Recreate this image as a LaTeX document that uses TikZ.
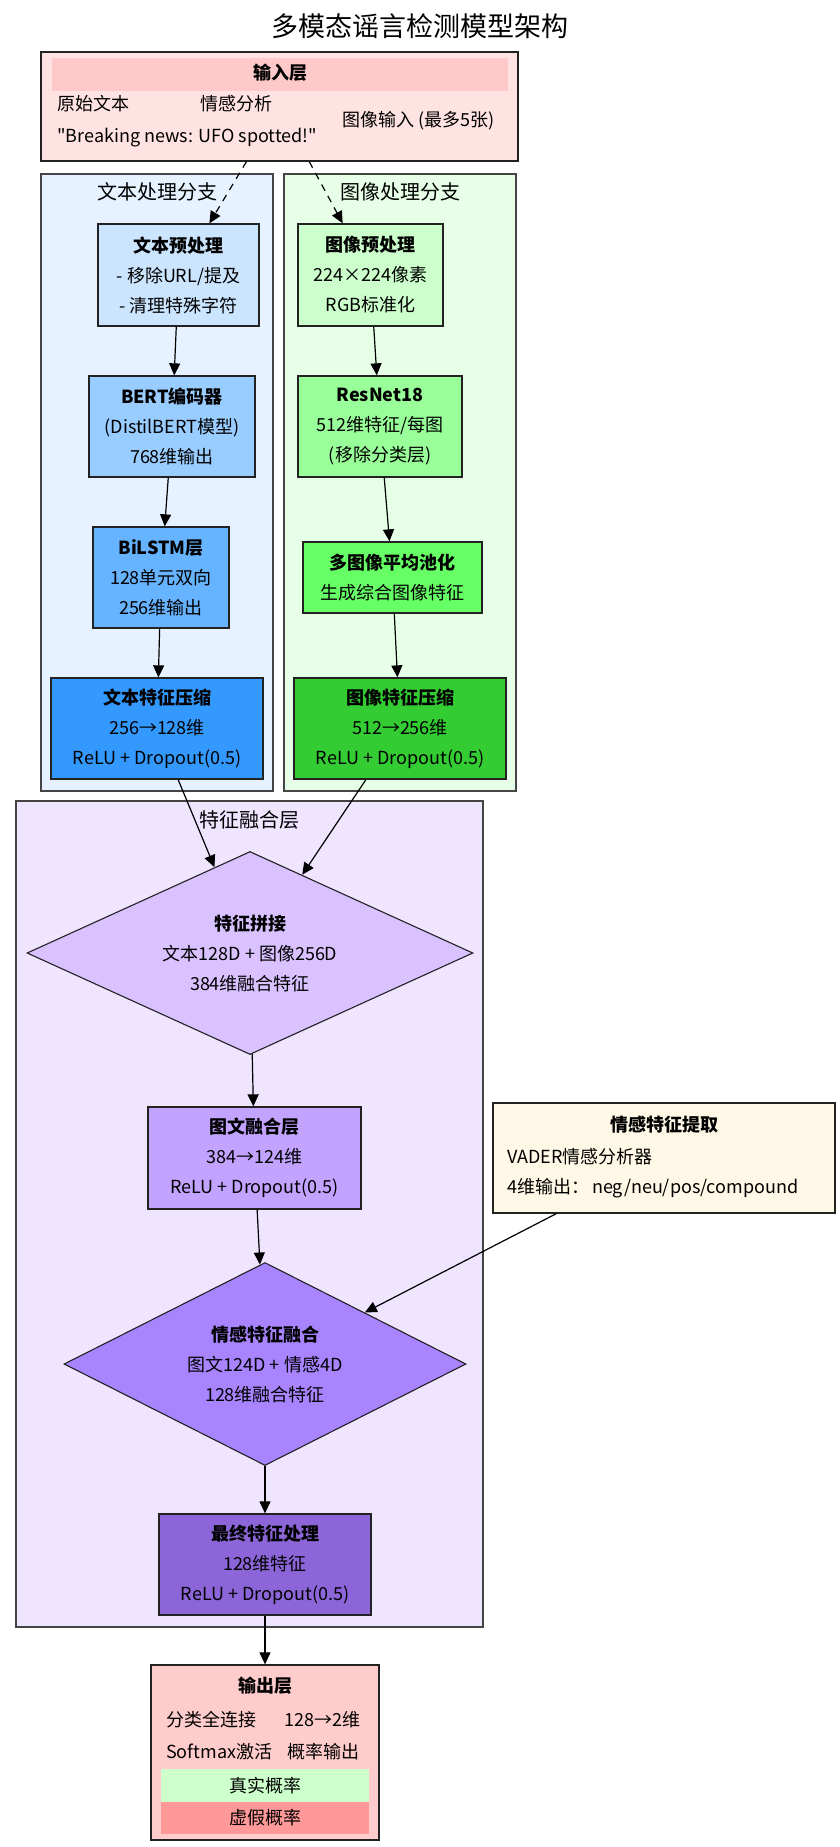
\documentclass[tikz,border=0pt]{standalone}
\usepackage{fontspec}
\setmainfont{Noto Sans CJK SC}
\newfontfamily\rawfont{Noto Sans CJK SC}
\usetikzlibrary{arrows.meta,shapes.geometric}
\definecolor{inputfill}{HTML}{FFE3E3}
\definecolor{headfill}{HTML}{FFC9C9}
\definecolor{tbranch}{HTML}{E6F2FF}
\definecolor{ibranch}{HTML}{E6FFE6}
\definecolor{fusefill}{HTML}{EFE5FF}
\definecolor{tA}{HTML}{CCE5FF}
\definecolor{tB}{HTML}{99CCFF}
\definecolor{tC}{HTML}{66B3FF}
\definecolor{tD}{HTML}{3399FF}
\definecolor{iA}{HTML}{CCFFCC}
\definecolor{iB}{HTML}{99FF99}
\definecolor{iC}{HTML}{66FF66}
\definecolor{iD}{HTML}{33CC33}
\definecolor{fA}{HTML}{D9C2FF}
\definecolor{fB}{HTML}{C2A3FF}
\definecolor{fC}{HTML}{A884FF}
\definecolor{fD}{HTML}{8C66D9}
\definecolor{sentfill}{HTML}{FFF8E6}
\definecolor{outfill}{HTML}{FFCCCC}
\definecolor{goodbar}{HTML}{CCFFCC}
\definecolor{badbar}{HTML}{FF9999}
\definecolor{edgegray}{HTML}{222222}
\definecolor{framegray}{HTML}{444444}
\begin{document}
\begin{tikzpicture}[x=1pt,y=-1pt,
  body/.style={font=\fontsize{18}{30}\selectfont},
  blk/.style={draw=edgegray,line width=1.3pt,rectangle,inner sep=0pt,align=center,body},
  frame/.style={draw=framegray,line width=1.5pt,rectangle,inner sep=0pt},
  dia/.style={draw=edgegray,line width=1.1pt,diamond,inner sep=0pt,aspect=2.2,align=center,body},
  lbl/.style={inner sep=0pt,body},
  lft/.style={inner sep=0pt,anchor=west,body},
  grouplbl/.style={inner sep=0pt,font=\fontsize{20}{24}\selectfont},
  arr/.style={-{Triangle[length=12pt,width=11pt]},line width=1.2pt,black},
  darr/.style={arr,dash pattern=on 7pt off 6pt}
]
\useasboundingbox (0,0) rectangle (840,1847);
\fill[white] (0,0) rectangle (840,1847);

% title
\node[inner sep=0pt,font=\fontsize{27}{30}\selectfont] (title) at (420,26) {多模态谣言检测模型架构};

% cluster frames
\node[frame,fill=tbranch,minimum width=232pt,minimum height=617pt] (tbr) at (157,482.5) {};
\node[frame,fill=ibranch,minimum width=232pt,minimum height=617pt] (ibr) at (400,482.5) {};
\node[frame,fill=fusefill,minimum width=467pt,minimum height=826pt] (fus) at (249.5,1214) {};
\node[grouplbl] (tbrl) at (157,192) {文本处理分支};
\node[grouplbl] (ibrl) at (400,192) {图像处理分支};
\node[grouplbl] (fusl) at (249,820) {特征融合层};

% input box
\node[blk,fill=inputfill,minimum width=477pt,minimum height=109pt] (input) at (279.5,106.5) {};
\node[fill=headfill,inner sep=0pt,minimum width=456pt,minimum height=33pt] (inhead) at (280,74.5) {};
\node[lbl] (inheadt) at (280,73) {\bfseries 输入层};
\node[lft] (inraw) at (57,104) {原始文本};
\node[lft] (insent) at (200,104) {情感分析};
\node[lft] (inimg) at (342,121) {图像输入 (最多5张)};
\node[lft] (inex) at (57,138) {\rawfont "Breaking news: UFO spotted!"};

% text branch
\node[blk,fill=tA,minimum width=161pt,minimum height=102pt] (tpre) at (178.5,275) {\bfseries 文本预处理\\- 移除URL/提及\\- 清理特殊字符};
\node[blk,fill=tB,minimum width=166pt,minimum height=101pt] (bert) at (172,426.5) {\bfseries BERT编码器\\(DistilBERT模型)\\768维输出};
\node[blk,fill=tC,minimum width=136pt,minimum height=101pt] (bilstm) at (161,577.5) {\bfseries BiLSTM层\\128单元双向\\256维输出};
\node[blk,fill=tD,minimum width=212pt,minimum height=101pt] (tcomp) at (157,728.5) {\bfseries 文本特征压缩\\256→128维\\ReLU + Dropout(0.5)};

% image branch
\node[blk,fill=iA,minimum width=145pt,minimum height=102pt] (ipre) at (370.5,275) {\bfseries 图像预处理\\224×224像素\\RGB标准化};
\node[blk,fill=iB,minimum width=164pt,minimum height=101pt] (resnet) at (380,426.5) {\bfseries ResNet18\\512维特征/每图\\(移除分类层)};
\node[blk,fill=iC,minimum width=179pt,minimum height=71pt] (pool) at (392.5,577.5) {\bfseries 多图像平均池化\\生成综合图像特征};
\node[blk,fill=iD,minimum width=212pt,minimum height=101pt] (icomp) at (400,728.5) {\bfseries 图像特征压缩\\512→256维\\ReLU + Dropout(0.5)};

% fusion
\node[dia,fill=fA,minimum width=446pt,minimum height=203pt] (concat) at (250,953) {\bfseries 特征拼接\\文本128D + 图像256D\\384维融合特征};
\node[blk,fill=fB,minimum width=213pt,minimum height=102pt] (itfuse) at (254.5,1158) {\bfseries 图文融合层\\384→124维\\ReLU + Dropout(0.5)};
\node[dia,fill=fC,minimum width=402pt,minimum height=203pt] (sfuse) at (265,1364) {\bfseries 情感特征融合\\图文124D + 情感4D\\128维融合特征};
\node[blk,fill=fD,minimum width=212pt,minimum height=101pt] (final) at (265,1564.5) {\bfseries 最终特征处理\\128维特征\\ReLU + Dropout(0.5)};

% sentiment
\node[blk,fill=sentfill,minimum width=342pt,minimum height=110pt] (senti) at (664,1158) {};
\node[lbl] (sentit) at (664,1125) {\bfseries 情感特征提取};
\node[lft] (sentia) at (507,1157) {VADER情感分析器};
\node[lft] (sentib) at (507,1188) {4维输出：\,neg/neu/pos/compound};

% output
\node[blk,fill=outfill,minimum width=228pt,minimum height=175pt] (output) at (265,1752.5) {};
\node[lbl] (outt) at (265,1686) {\bfseries 输出层};
\node[lft] (outa) at (166,1720) {分类全连接};
\node[lft] (outb) at (284,1720) {128→2维};
\node[lft] (outc) at (166,1752) {Softmax激活};
\node[lft] (outd) at (287,1752) {概率输出};
\node[fill=goodbar,inner sep=0pt,minimum width=208pt,minimum height=33pt,body] (real) at (265,1785.5) {真实概率};
\node[fill=badbar,inner sep=0pt,minimum width=208pt,minimum height=32pt,body] (fake) at (265,1818) {虚假概率};

% connectors
\draw[darr] (input) -- (tpre);
\draw[darr] (input) -- (ipre);
\draw[arr] (tpre) -- (bert);
\draw[arr] (bert) -- (bilstm);
\draw[arr] (bilstm) -- (tcomp);
\draw[arr] (ipre) -- (resnet);
\draw[arr] (resnet) -- (pool);
\draw[arr] (pool) -- (icomp);
\draw[arr] (tcomp) -- (concat);
\draw[arr] (icomp) -- (concat);
\draw[arr] (concat) -- (itfuse);
\draw[arr] (itfuse) -- (sfuse);
\draw[arr] (senti) -- (sfuse);
\draw[arr] (sfuse) -- (final);
\draw[arr] (final) -- (output);
\end{tikzpicture}
\end{document}
